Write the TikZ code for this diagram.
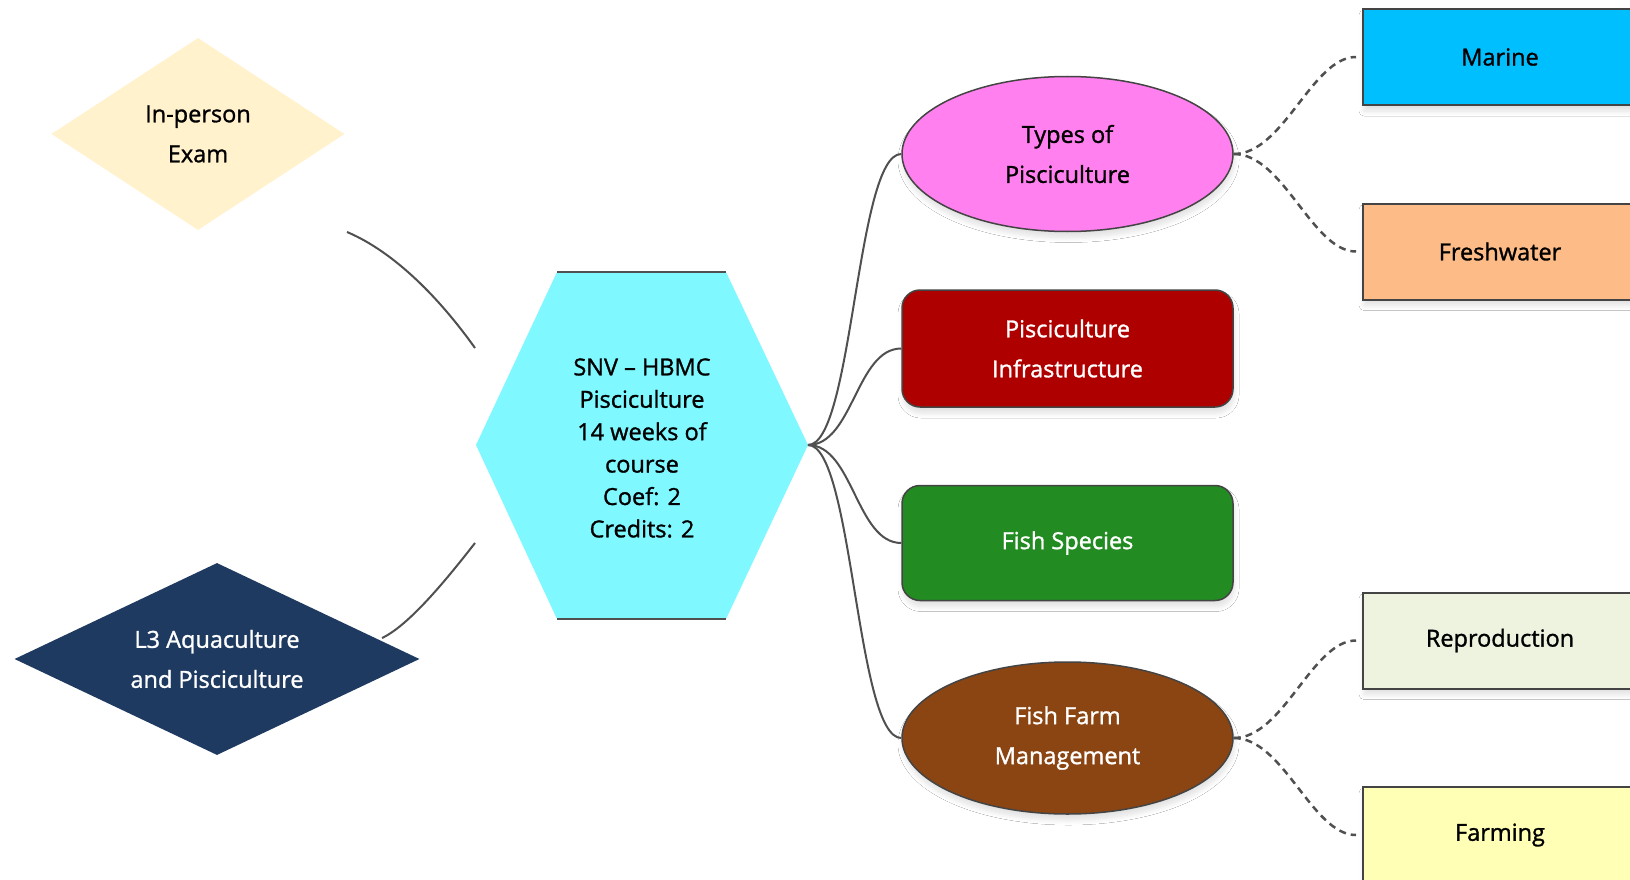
\documentclass[tikz,border=0pt]{standalone}
\usepackage{fontspec}
\setmainfont{Open Sans}[FakeBold=1.2]
\usetikzlibrary{shapes.geometric,shadows.blur}
\definecolor{examfill}{HTML}{FFF2CC}
\definecolor{navy}{HTML}{1F3A60}
\definecolor{hexcyan}{HTML}{80F8FF}
\definecolor{pinkfill}{HTML}{FF80EE}
\definecolor{redfill}{HTML}{AF0000}
\definecolor{greenfill}{HTML}{228B22}
\definecolor{brownfill}{HTML}{8B4513}
\definecolor{marinefill}{HTML}{00BFFF}
\definecolor{freshfill}{HTML}{FDBB88}
\definecolor{reprofill}{HTML}{EEF3DF}
\definecolor{farmfill}{HTML}{FFFFB5}
\definecolor{edgegray}{HTML}{444444}
\definecolor{linegray}{HTML}{505050}
\begin{document}
\begin{tikzpicture}[x=1pt,y=-1pt,
  every node/.style={font=\fontsize{23.5}{40}\selectfont, align=center, inner sep=0pt},
  softshadow/.style={blur shadow={shadow blur steps=10, shadow xshift=1pt, shadow yshift=-6pt, shadow opacity=12, shadow blur radius=5pt}},
  dmd/.style={diamond, draw=none},
  midnode/.style={draw=edgegray, line width=1.5pt, minimum width=331pt, softshadow},
  ellnode/.style={midnode, ellipse, minimum height=155pt},
  rnode/.style={midnode, rectangle, rounded corners=18pt, minimum height=115pt},
  leafnode/.style={draw=edgegray, line width=2pt, rectangle, minimum width=274pt, minimum height=96pt, softshadow},
  conn/.style={draw=linegray, line width=2pt},
  dconn/.style={draw=linegray, line width=2.5pt, dash pattern=on 7pt off 5pt},
]
\useasboundingbox (0,0) rectangle (1630,880);
\fill[white] (0,0) rectangle (1630,880);

% left curves (free-ended connectors)
\coordinate (c1a) at (347,232);
\coordinate (c1b) at (475,348);
\coordinate (c2a) at (475,543);
\coordinate (c2b) at (382,638);
\draw[conn] (c1a) .. controls (385,248) and (430,285) .. (c1b);
\draw[conn] (c2a) .. controls (450,575) and (410,625) .. (c2b);

% diamonds
\node[dmd, aspect=1.53, fill=examfill, minimum width=293pt, minimum height=192pt] (exam) at (198,134) {In-person\\Exam};
\node[dmd, aspect=2.1, fill=navy, text=white, minimum width=405pt, minimum height=192pt] (l3) at (217,659) {L3 Aquaculture\\and Pisciculture};

% hexagon
\coordinate (hL) at (476,445);
\coordinate (hTL) at (557,272);
\coordinate (hTR) at (726,272);
\coordinate (hubR) at (808,445);
\coordinate (hBR) at (726,619);
\coordinate (hBL) at (557,619);
\fill[hexcyan] (hL) -- (hTL) -- (hTR) -- (hubR) -- (hBR) -- (hBL) -- cycle;
\draw[linegray, line width=2pt] (hTL) -- (hTR);
\draw[linegray, line width=2pt] (hBL) -- (hBR);
\node[font=\fontsize{23.5}{32.4}\selectfont] (hex) at (642,448) {SNV – HBMC\\Pisciculture\\14 weeks of\\course\\Coef: 2\\Credits: 2};

% middle nodes
\node[ellnode, fill=pinkfill] (types) at (1067.5,154) {Types of\\Pisciculture};
\node[rnode, fill=redfill, text=white, minimum height=117pt] (infra) at (1067.5,348.5) {Pisciculture\\Infrastructure};
\node[rnode, fill=greenfill, text=white] (species) at (1067.5,543) {Fish Species};
\node[ellnode, fill=brownfill, text=white, minimum height=152pt] (farm) at (1067.5,738) {Fish Farm\\Management};

% leaf boxes
\node[leafnode, fill=marinefill] (marine) at (1500,57) {Marine};
\node[leafnode, fill=freshfill] (fresh) at (1500,251.5) {Freshwater};
\node[leafnode, fill=reprofill] (repro) at (1500,640.5) {Reproduction};
\node[leafnode, fill=farmfill] (farming) at (1500,835) {Farming};

% hub connectors
\foreach \t in {types,infra,species,farm}{
  \draw[conn] (hubR) to[out=0,in=180,out distance=45pt,in distance=45pt] (\t.west);
}

% dashed connectors
\draw[dconn, shorten >=6pt] (types.east) to[out=0,in=180,out distance=50pt,in distance=50pt] (marine.west);
\draw[dconn, shorten >=6pt] (types.east) to[out=0,in=180,out distance=50pt,in distance=50pt] (fresh.west);
\draw[dconn, shorten >=6pt] (farm.east) to[out=0,in=180,out distance=50pt,in distance=50pt] (repro.west);
\draw[dconn, shorten >=6pt] (farm.east) to[out=0,in=180,out distance=50pt,in distance=50pt] (farming.west);
\end{tikzpicture}
\end{document}
